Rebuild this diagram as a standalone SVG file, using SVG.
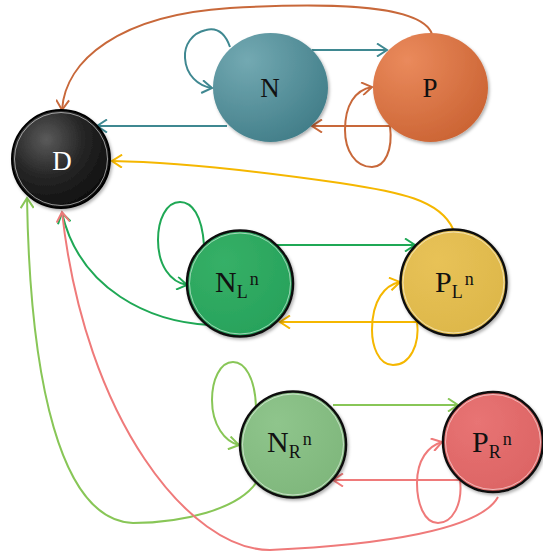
<svg xmlns="http://www.w3.org/2000/svg" width="543" height="556" viewBox="0 0 543 556">
<style>
.e{fill:none;stroke-width:2}
.t{font-family:"Liberation Serif","Times New Roman",serif;fill:#111}
.b{stroke:#111;stroke-width:2.5}
.hl{fill:none;stroke:#fff;stroke-width:1;opacity:.55}
.teal{stroke:#3f8891}.org{stroke:#c8683a}.grn{stroke:#1fa855}.yel{stroke:#f5b700}.lgr{stroke:#88c657}.red{stroke:#ef7a7a}
</style>
<defs>
<filter id="sh" x="-20%" y="-20%" width="140%" height="140%"><feDropShadow dx="1.5" dy="2" stdDeviation="1.5" flood-color="#000" flood-opacity="0.3"/></filter>
<radialGradient id="gD" cx="35%" cy="30%" r="75%"><stop offset="0" stop-color="#5a5a5a"/><stop offset="0.5" stop-color="#262626"/><stop offset="1" stop-color="#0d0d0d"/></radialGradient>
<radialGradient id="gN" cx="30%" cy="25%" r="80%"><stop offset="0" stop-color="#73a9b2"/><stop offset="1" stop-color="#437f8a"/></radialGradient>
<radialGradient id="gP" cx="30%" cy="25%" r="80%"><stop offset="0" stop-color="#ea8a5c"/><stop offset="1" stop-color="#cc6535"/></radialGradient>
<radialGradient id="gNL" cx="35%" cy="30%" r="75%"><stop offset="0" stop-color="#36b067"/><stop offset="1" stop-color="#27a25b"/></radialGradient>
<radialGradient id="gPL" cx="35%" cy="30%" r="75%"><stop offset="0" stop-color="#e8c257"/><stop offset="1" stop-color="#ddb74a"/></radialGradient>
<radialGradient id="gNR" cx="35%" cy="30%" r="75%"><stop offset="0" stop-color="#8fc58c"/><stop offset="1" stop-color="#7fb77c"/></radialGradient>
<radialGradient id="gPR" cx="35%" cy="30%" r="75%"><stop offset="0" stop-color="#e87474"/><stop offset="1" stop-color="#dc6464"/></radialGradient>
<marker id="mTeal" markerUnits="userSpaceOnUse" markerWidth="14" markerHeight="14" viewBox="0 0 14 14" refX="12" refY="7" orient="auto"><path d="M2,0.5 L12,7 L2,13.5" fill="none" stroke="#3f8891" stroke-width="2"/></marker>
<marker id="mOrg" markerUnits="userSpaceOnUse" markerWidth="14" markerHeight="14" viewBox="0 0 14 14" refX="12" refY="7" orient="auto"><path d="M2,0.5 L12,7 L2,13.5" fill="none" stroke="#c8683a" stroke-width="2"/></marker>
<marker id="mGrn" markerUnits="userSpaceOnUse" markerWidth="14" markerHeight="14" viewBox="0 0 14 14" refX="12" refY="7" orient="auto"><path d="M2,0.5 L12,7 L2,13.5" fill="none" stroke="#1fa855" stroke-width="2"/></marker>
<marker id="mYel" markerUnits="userSpaceOnUse" markerWidth="14" markerHeight="14" viewBox="0 0 14 14" refX="12" refY="7" orient="auto"><path d="M2,0.5 L12,7 L2,13.5" fill="none" stroke="#f5b700" stroke-width="2"/></marker>
<marker id="mLgr" markerUnits="userSpaceOnUse" markerWidth="14" markerHeight="14" viewBox="0 0 14 14" refX="12" refY="7" orient="auto"><path d="M2,0.5 L12,7 L2,13.5" fill="none" stroke="#88c657" stroke-width="2"/></marker>
<marker id="mRed" markerUnits="userSpaceOnUse" markerWidth="14" markerHeight="14" viewBox="0 0 14 14" refX="12" refY="7" orient="auto"><path d="M2,0.5 L12,7 L2,13.5" fill="none" stroke="#ef7a7a" stroke-width="2"/></marker>
</defs>
<rect width="543" height="556" fill="#fff"/>

<g id="connectors">
<!-- N edges -->
<path class="e teal" d="M230,47 C224,30 214,28 206,30 C192,33 184,45 185,58 C186,75 198,86 212,88" marker-end="url(#mTeal)"/>
<path class="e teal" d="M312,50 L387,50" marker-end="url(#mTeal)"/>
<path class="e teal" d="M227,126 L97,126" marker-end="url(#mTeal)"/>
<!-- P edges -->
<path class="e org" d="M390,126 L312,126" marker-end="url(#mOrg)"/>
<path class="e org" d="M390,126 C393,150 385,167 372,167 C355,167 345,150 345,130 C345,105 355,90 372,87" marker-end="url(#mOrg)"/>
<path class="e org" d="M432,34 C420,0 300,4 230,8 C120,15 65,60 62,110" marker-end="url(#mOrg)"/>
<!-- N_L edges -->
<path class="e grn" d="M204,245 C202,215 192,202 180,202 C166,202 158,220 158,240 C158,265 170,282 187,285" marker-end="url(#mGrn)"/>
<path class="e grn" d="M277,245 L415,245" marker-end="url(#mGrn)"/>
<path class="e grn" d="M210,325 C150,322 80,290 62,213" marker-end="url(#mGrn)"/>
<!-- P_L edges -->
<path class="e yel" d="M417,322 L280,322" marker-end="url(#mYel)"/>
<path class="e yel" d="M417,321 C420,345 410,365 393,365 C378,365 372,345 372,330 C372,300 385,285 400,282" marker-end="url(#mYel)"/>
<path class="e yel" d="M453,229 C440,200 400,192 340,183 C250,170 170,162 112,161" marker-end="url(#mYel)"/>
<!-- N_R edges -->
<path class="e lgr" d="M256,407 C255,378 245,362 233,362 C220,362 212,380 212,400 C212,425 225,442 239,445" marker-end="url(#mLgr)"/>
<path class="e lgr" d="M333,405 L458,405" marker-end="url(#mLgr)"/>
<path class="e lgr" d="M258,480 C240,510 180,523 133,523 C60,520 30,380 27,198" marker-end="url(#mLgr)"/>
<!-- P_R edges -->
<path class="e red" d="M460,480 L333,480" marker-end="url(#mRed)"/>
<path class="e red" d="M460,480 C463,505 452,523 438,523 C424,523 417,503 417,483 C417,460 428,446 442,442" marker-end="url(#mRed)"/>
<path class="e red" d="M498,497 C480,530 380,545 270,550 C190,550 85,420 62,212" marker-end="url(#mRed)"/>
</g>

<g id="node-D">
<circle cx="61" cy="159" r="49" fill="url(#gD)" stroke="#000" stroke-width="2" filter="url(#sh)"/>
<circle cx="61" cy="159" r="46.5" class="hl"/>
<text class="t" x="62" y="170" font-size="27" text-anchor="middle" fill="#fff" style="fill:#fff">D</text>
</g>
<g id="node-N">
<ellipse cx="270.5" cy="87.5" rx="57.5" ry="54.5" fill="url(#gN)" filter="url(#sh)"/>
<text class="t" x="270" y="97" font-size="27" text-anchor="middle">N</text>
</g>
<g id="node-P">
<ellipse cx="430.5" cy="87.5" rx="57.5" ry="54.5" fill="url(#gP)" filter="url(#sh)"/>
<text class="t" x="430" y="97" font-size="27" text-anchor="middle">P</text>
</g>
<g id="node-NL">
<circle cx="240" cy="283.5" r="53" class="b" fill="url(#gNL)" filter="url(#sh)"/>
<circle cx="240" cy="283.5" r="50.5" class="hl"/>
<text class="t" x="215" y="292" font-size="30">N<tspan font-size="18" dy="6">L</tspan><tspan font-size="18" dx="2" dy="-13">n</tspan></text>
</g>
<g id="node-PL">
<circle cx="453.5" cy="282.5" r="53" class="b" fill="url(#gPL)" filter="url(#sh)"/>
<circle cx="453.5" cy="282.5" r="50.5" class="hl"/>
<text class="t" x="435" y="292" font-size="30">P<tspan font-size="18" dy="6">L</tspan><tspan font-size="18" dx="2" dy="-13">n</tspan></text>
</g>
<g id="node-NR">
<circle cx="293" cy="444.5" r="53" class="b" fill="url(#gNR)" filter="url(#sh)"/>
<circle cx="293" cy="444.5" r="50.5" class="hl"/>
<text class="t" x="267" y="452" font-size="30">N<tspan font-size="18" dy="6">R</tspan><tspan font-size="18" dx="2" dy="-13">n</tspan></text>
</g>
<g id="node-PR">
<circle cx="493" cy="442" r="50" class="b" fill="url(#gPR)" filter="url(#sh)"/>
<circle cx="493" cy="442" r="47.5" class="hl"/>
<text class="t" x="472" y="452" font-size="30">P<tspan font-size="18" dy="6">R</tspan><tspan font-size="18" dx="2" dy="-13">n</tspan></text>
</g>
</svg>
